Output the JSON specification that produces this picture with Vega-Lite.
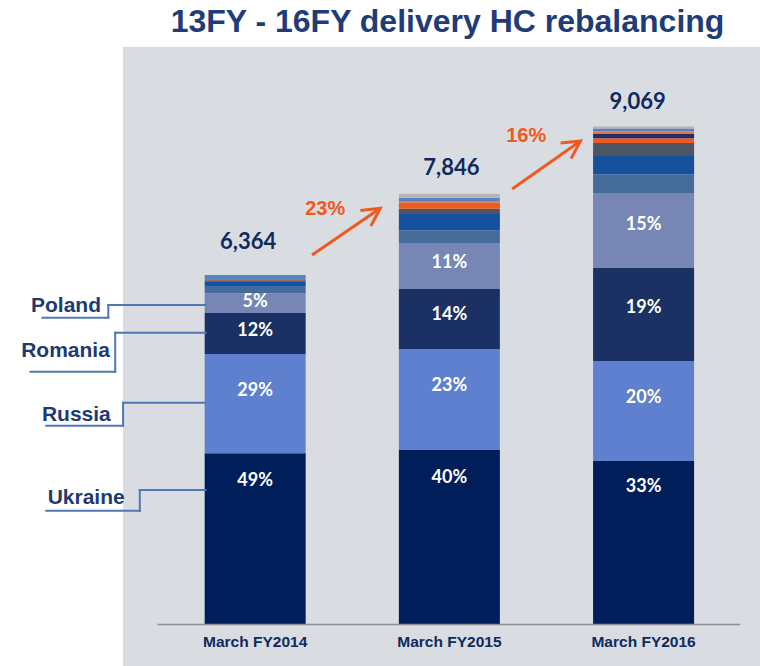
{
  "$schema": "https://vega.github.io/schema/vega-lite/v6.json",
  "width": 637,
  "height": 619,
  "autosize": {"type": "none"},
  "padding": {"left": 123, "top": 47, "right": 0, "bottom": 0},
  "background": "white",
  "config": {"view": {"fill": "#D9DCE1", "stroke": null}, "font": "Liberation Sans", "axis": {"disable": true}},
  "title": {"text": "13FY - 16FY delivery HC rebalancing", "font": "Liberation Sans", "fontSize": 32, "fontWeight": "bold", "color": "#1F3C78", "anchor": "middle", "dx": 6, "offset": 8},
  "datasets": {
    "hc": [
      {"year": 2014, "country": "Ukraine", "hc": 3118, "pct": "49%"},
      {"year": 2014, "country": "Russia", "hc": 1809, "pct": "29%"},
      {"year": 2014, "country": "Romania", "hc": 747, "pct": "12%"},
      {"year": 2014, "country": "Poland", "hc": 359, "pct": "5%"},
      {"year": 2014, "country": "Other 1", "hc": 120},
      {"year": 2014, "country": "Other 2", "hc": 98},
      {"year": 2014, "country": "Other 3", "hc": 18},
      {"year": 2014, "country": "Other 4", "hc": 24},
      {"year": 2014, "country": "Other 7", "hc": 71},
      {"year": 2015, "country": "Ukraine", "hc": 3179, "pct": "40%"},
      {"year": 2015, "country": "Russia", "hc": 1840, "pct": "23%"},
      {"year": 2015, "country": "Romania", "hc": 1093, "pct": "14%"},
      {"year": 2015, "country": "Poland", "hc": 838, "pct": "11%"},
      {"year": 2015, "country": "Other 1", "hc": 232},
      {"year": 2015, "country": "Other 2", "hc": 293},
      {"year": 2015, "country": "Other 3", "hc": 97},
      {"year": 2015, "country": "Other 4", "hc": 110},
      {"year": 2015, "country": "Other 6", "hc": 18},
      {"year": 2015, "country": "Other 7", "hc": 73},
      {"year": 2015, "country": "Other 8", "hc": 73},
      {"year": 2016, "country": "Ukraine", "hc": 2978, "pct": "33%"},
      {"year": 2016, "country": "Russia", "hc": 1822, "pct": "20%"},
      {"year": 2016, "country": "Romania", "hc": 1694, "pct": "19%"},
      {"year": 2016, "country": "Poland", "hc": 1366, "pct": "15%"},
      {"year": 2016, "country": "Other 1", "hc": 335},
      {"year": 2016, "country": "Other 2", "hc": 338},
      {"year": 2016, "country": "Other 3", "hc": 237},
      {"year": 2016, "country": "Other 4", "hc": 86},
      {"year": 2016, "country": "Other 5", "hc": 86},
      {"year": 2016, "country": "Other 6", "hc": 36},
      {"year": 2016, "country": "Other 7", "hc": 55},
      {"year": 2016, "country": "Other 8", "hc": 36}
    ],
    "totals": [
      {"year": 2014, "total": 6364, "label": "6,364", "period": "March FY2014"},
      {"year": 2015, "total": 7846, "label": "7,846", "period": "March FY2015"},
      {"year": 2016, "total": 9069, "label": "9,069", "period": "March FY2016"}
    ]
  },
  "layer": [
    {
      "data": {"name": "hc"},
      "transform": [{"calculate": "indexof(['Ukraine','Russia','Romania','Poland','Other 1','Other 2','Other 3','Other 4','Other 5','Other 6','Other 7','Other 8'], datum.country)", "as": "ord"}],
      "mark": {"type": "bar", "width": 101, "orient": "vertical"},
      "encoding": {
        "x": {"field": "year", "type": "quantitative", "scale": {"domain": [2013.3452, 2016.5737], "nice": false, "zero": false}, "axis": null},
        "y": {"field": "hc", "type": "quantitative", "stack": "zero", "scale": {"domain": [-756, 10519], "nice": false, "zero": false}, "axis": null},
        "color": {"field": "country", "type": "nominal", "legend": null,
          "scale": {"domain": ["Ukraine","Russia","Romania","Poland","Other 1","Other 2","Other 3","Other 4","Other 5","Other 6","Other 7","Other 8"],
                    "range": ["#001E5A","#5E80CE","#1C3163","#7886B5","#456B9A","#15509D","#4B5563","#EE5A22","#1F2F6A","#F07A3A","#5982C3","#B9B2B6"]}},
        "order": {"field": "ord", "type": "quantitative"}
      }
    },
    {
      "data": {"name": "hc"},
      "transform": [{"calculate": "indexof(['Ukraine','Russia','Romania','Poland','Other 1','Other 2','Other 3','Other 4','Other 5','Other 6','Other 7','Other 8'], datum.country)", "as": "ord"}],
      "mark": {"type": "text", "font": "Lato", "fontWeight": "bold", "fontSize": 18, "color": "white", "baseline": "middle"},
      "encoding": {
        "x": {"field": "year", "type": "quantitative"},
        "y": {"field": "hc", "type": "quantitative", "stack": "zero", "bandPosition": 0.84},
        "detail": {"field": "country"},
        "order": {"field": "ord", "type": "quantitative"},
        "text": {"condition": {"test": "datum.country === 'Ukraine'", "field": "pct", "type": "nominal"}, "value": ""}
      }
    },
    {
      "data": {"name": "hc"},
      "transform": [{"calculate": "indexof(['Ukraine','Russia','Romania','Poland','Other 1','Other 2','Other 3','Other 4','Other 5','Other 6','Other 7','Other 8'], datum.country)", "as": "ord"}],
      "mark": {"type": "text", "font": "Lato", "fontWeight": "bold", "fontSize": 18, "color": "white", "baseline": "middle"},
      "encoding": {
        "x": {"field": "year", "type": "quantitative"},
        "y": {"field": "hc", "type": "quantitative", "stack": "zero", "bandPosition": 0.63},
        "detail": {"field": "country"},
        "order": {"field": "ord", "type": "quantitative"},
        "text": {"condition": {"test": "datum.country === 'Russia'", "field": "pct", "type": "nominal"}, "value": ""}
      }
    },
    {
      "data": {"name": "hc"},
      "transform": [{"calculate": "indexof(['Ukraine','Russia','Romania','Poland','Other 1','Other 2','Other 3','Other 4','Other 5','Other 6','Other 7','Other 8'], datum.country)", "as": "ord"}],
      "mark": {"type": "text", "font": "Lato", "fontWeight": "bold", "fontSize": 18, "color": "white", "baseline": "middle"},
      "encoding": {
        "x": {"field": "year", "type": "quantitative"},
        "y": {"field": "hc", "type": "quantitative", "stack": "zero", "bandPosition": 0.57},
        "detail": {"field": "country"},
        "order": {"field": "ord", "type": "quantitative"},
        "text": {"condition": {"test": "datum.country === 'Romania' || datum.country === 'Poland'", "field": "pct", "type": "nominal"}, "value": ""}
      }
    },
    {
      "data": {"name": "totals"},
      "transform": [{"filter": "datum.year === 2014"}],
      "mark": {"type": "text", "font": "Lato", "fontWeight": "bold", "fontSize": 22, "color": "#0E2A5F", "baseline": "alphabetic", "dx": -7, "dy": -26},
      "encoding": {"x": {"field": "year", "type": "quantitative"}, "y": {"field": "total", "type": "quantitative"}, "text": {"field": "label"}}
    },
    {
      "data": {"name": "totals"},
      "transform": [{"filter": "datum.year === 2015"}],
      "mark": {"type": "text", "font": "Lato", "fontWeight": "bold", "fontSize": 22, "color": "#0E2A5F", "baseline": "alphabetic", "dx": 2, "dy": -19},
      "encoding": {"x": {"field": "year", "type": "quantitative"}, "y": {"field": "total", "type": "quantitative"}, "text": {"field": "label"}}
    },
    {
      "data": {"name": "totals"},
      "transform": [{"filter": "datum.year === 2016"}],
      "mark": {"type": "text", "font": "Lato", "fontWeight": "bold", "fontSize": 22, "color": "#0E2A5F", "baseline": "alphabetic", "dx": -6, "dy": -18},
      "encoding": {"x": {"field": "year", "type": "quantitative"}, "y": {"field": "total", "type": "quantitative"}, "text": {"field": "label"}}
    },
    {
      "data": {"name": "totals"},
      "mark": {"type": "text", "font": "Liberation Sans", "fontWeight": "bold", "fontSize": 15.5, "color": "#0E2A5F", "baseline": "alphabetic"},
      "encoding": {"x": {"field": "year", "type": "quantitative"}, "y": {"datum": -410, "type": "quantitative"}, "text": {"field": "period"}}
    },
    {
      "data": {"values": [{}]},
      "mark": {"type": "rule", "color": "#8C9096", "strokeWidth": 1.5},
      "encoding": {"x": {"datum": 2013.4972, "type": "quantitative"}, "x2": {"datum": 2016.4977}, "y": {"datum": 0, "type": "quantitative"}}
    },
    {"data": {"values": [{}]}, "mark": {"type": "rule", "color": "#5077B5", "strokeWidth": 2, "strokeCap": "square"},
      "encoding": {"x": {"datum": 2013.2438, "type": "quantitative"}, "x2": {"datum": 2013.744}, "y": {"datum": 5820, "type": "quantitative"}}},
    {"data": {"values": [{}]}, "mark": {"type": "rule", "color": "#5077B5", "strokeWidth": 2, "strokeCap": "square"},
      "encoding": {"x": {"datum": 2013.2438, "type": "quantitative"}, "y": {"datum": 5588, "type": "quantitative"}, "y2": {"datum": 5820}}},
    {"data": {"values": [{}]}, "mark": {"type": "rule", "color": "#5077B5", "strokeWidth": 2, "strokeCap": "square"},
      "encoding": {"x": {"datum": 2012.9042, "type": "quantitative"}, "x2": {"datum": 2013.2438}, "y": {"datum": 5588, "type": "quantitative"}}},
    {"data": {"values": [{}]}, "mark": {"type": "rule", "color": "#5077B5", "strokeWidth": 2, "strokeCap": "square"},
      "encoding": {"x": {"datum": 2013.2793, "type": "quantitative"}, "x2": {"datum": 2013.744}, "y": {"datum": 5315, "type": "quantitative"}}},
    {"data": {"values": [{}]}, "mark": {"type": "rule", "color": "#5077B5", "strokeWidth": 2, "strokeCap": "square"},
      "encoding": {"x": {"datum": 2013.2793, "type": "quantitative"}, "y": {"datum": 4605, "type": "quantitative"}, "y2": {"datum": 5315}}},
    {"data": {"values": [{}]}, "mark": {"type": "rule", "color": "#5077B5", "strokeWidth": 2, "strokeCap": "square"},
      "encoding": {"x": {"datum": 2012.8434, "type": "quantitative"}, "x2": {"datum": 2013.2793}, "y": {"datum": 4605, "type": "quantitative"}}},
    {"data": {"values": [{}]}, "mark": {"type": "rule", "color": "#5077B5", "strokeWidth": 2, "strokeCap": "square"},
      "encoding": {"x": {"datum": 2013.3198, "type": "quantitative"}, "x2": {"datum": 2013.744}, "y": {"datum": 4040, "type": "quantitative"}}},
    {"data": {"values": [{}]}, "mark": {"type": "rule", "color": "#5077B5", "strokeWidth": 2, "strokeCap": "square"},
      "encoding": {"x": {"datum": 2013.3198, "type": "quantitative"}, "y": {"datum": 3621, "type": "quantitative"}, "y2": {"datum": 4040}}},
    {"data": {"values": [{}]}, "mark": {"type": "rule", "color": "#5077B5", "strokeWidth": 2, "strokeCap": "square"},
      "encoding": {"x": {"datum": 2012.9245, "type": "quantitative"}, "x2": {"datum": 2013.3198}, "y": {"datum": 3621, "type": "quantitative"}}},
    {"data": {"values": [{}]}, "mark": {"type": "rule", "color": "#5077B5", "strokeWidth": 2, "strokeCap": "square"},
      "encoding": {"x": {"datum": 2013.406, "type": "quantitative"}, "x2": {"datum": 2013.744}, "y": {"datum": 2450, "type": "quantitative"}}},
    {"data": {"values": [{}]}, "mark": {"type": "rule", "color": "#5077B5", "strokeWidth": 2, "strokeCap": "square"},
      "encoding": {"x": {"datum": 2013.406, "type": "quantitative"}, "y": {"datum": 2073, "type": "quantitative"}, "y2": {"datum": 2450}}},
    {"data": {"values": [{}]}, "mark": {"type": "rule", "color": "#5077B5", "strokeWidth": 2, "strokeCap": "square"},
      "encoding": {"x": {"datum": 2012.9245, "type": "quantitative"}, "x2": {"datum": 2013.406}, "y": {"datum": 2073, "type": "quantitative"}}},
    {"data": {"values": [{}]}, "mark": {"type": "text", "text": "Poland", "font": "Liberation Sans", "fontWeight": "bold", "fontSize": 21, "color": "#1F3A73", "align": "center", "baseline": "alphabetic"},
      "encoding": {"x": {"datum": 2013.0259, "type": "quantitative"}, "y": {"datum": 5692, "type": "quantitative"}}},
    {"data": {"values": [{}]}, "mark": {"type": "text", "text": "Romania", "font": "Liberation Sans", "fontWeight": "bold", "fontSize": 21, "color": "#1F3A73", "align": "center", "baseline": "alphabetic"},
      "encoding": {"x": {"datum": 2013.0233, "type": "quantitative"}, "y": {"datum": 4878, "type": "quantitative"}}},
    {"data": {"values": [{}]}, "mark": {"type": "text", "text": "Russia", "font": "Liberation Sans", "fontWeight": "bold", "fontSize": 21, "color": "#1F3A73", "align": "center", "baseline": "alphabetic"},
      "encoding": {"x": {"datum": 2013.0791, "type": "quantitative"}, "y": {"datum": 3712, "type": "quantitative"}}},
    {"data": {"values": [{}]}, "mark": {"type": "text", "text": "Ukraine", "font": "Liberation Sans", "fontWeight": "bold", "fontSize": 21, "color": "#1F3A73", "align": "center", "baseline": "alphabetic"},
      "encoding": {"x": {"datum": 2013.1298, "type": "quantitative"}, "y": {"datum": 2195, "type": "quantitative"}}},
    {"data": {"values": [{}]}, "mark": {"type": "rule", "color": "#F05A22", "strokeWidth": 3},
      "encoding": {"x": {"datum": 2014.293, "type": "quantitative"}, "x2": {"datum": 2014.6442}, "y": {"datum": 6730, "type": "quantitative"}, "y2": {"datum": 7581}}},
    {"data": {"values": [{}]}, "mark": {"type": "rule", "color": "#F05A22", "strokeWidth": 3},
      "encoding": {"x": {"datum": 2015.3234, "type": "quantitative"}, "x2": {"datum": 2015.6751}, "y": {"datum": 7933, "type": "quantitative"}, "y2": {"datum": 8807}}},
    {"data": {"values": [{}]}, "mark": {"type": "point", "shape": "M-0.53,1L0,0L0.53,1", "size": 1250, "angle": 56, "filled": false, "stroke": "#F05A22", "strokeWidth": 3, "opacity": 1},
      "encoding": {"x": {"datum": 2014.6442, "type": "quantitative"}, "y": {"datum": 7581, "type": "quantitative"}}},
    {"data": {"values": [{}]}, "mark": {"type": "point", "shape": "M-0.53,1L0,0L0.53,1", "size": 1250, "angle": 56, "filled": false, "stroke": "#F05A22", "strokeWidth": 3, "opacity": 1},
      "encoding": {"x": {"datum": 2015.6751, "type": "quantitative"}, "y": {"datum": 8807, "type": "quantitative"}}},
    {"data": {"values": [{}]}, "mark": {"type": "text", "text": "23%", "font": "Liberation Sans", "fontWeight": "bold", "fontSize": 20, "color": "#F05A22", "align": "center", "baseline": "alphabetic"},
      "encoding": {"x": {"datum": 2014.3604, "type": "quantitative"}, "y": {"datum": 7459, "type": "quantitative"}}},
    {"data": {"values": [{}]}, "mark": {"type": "text", "text": "16%", "font": "Liberation Sans", "fontWeight": "bold", "fontSize": 20, "color": "#F05A22", "align": "center", "baseline": "alphabetic"},
      "encoding": {"x": {"datum": 2015.3953, "type": "quantitative"}, "y": {"datum": 8783, "type": "quantitative"}}}
  ]
}
